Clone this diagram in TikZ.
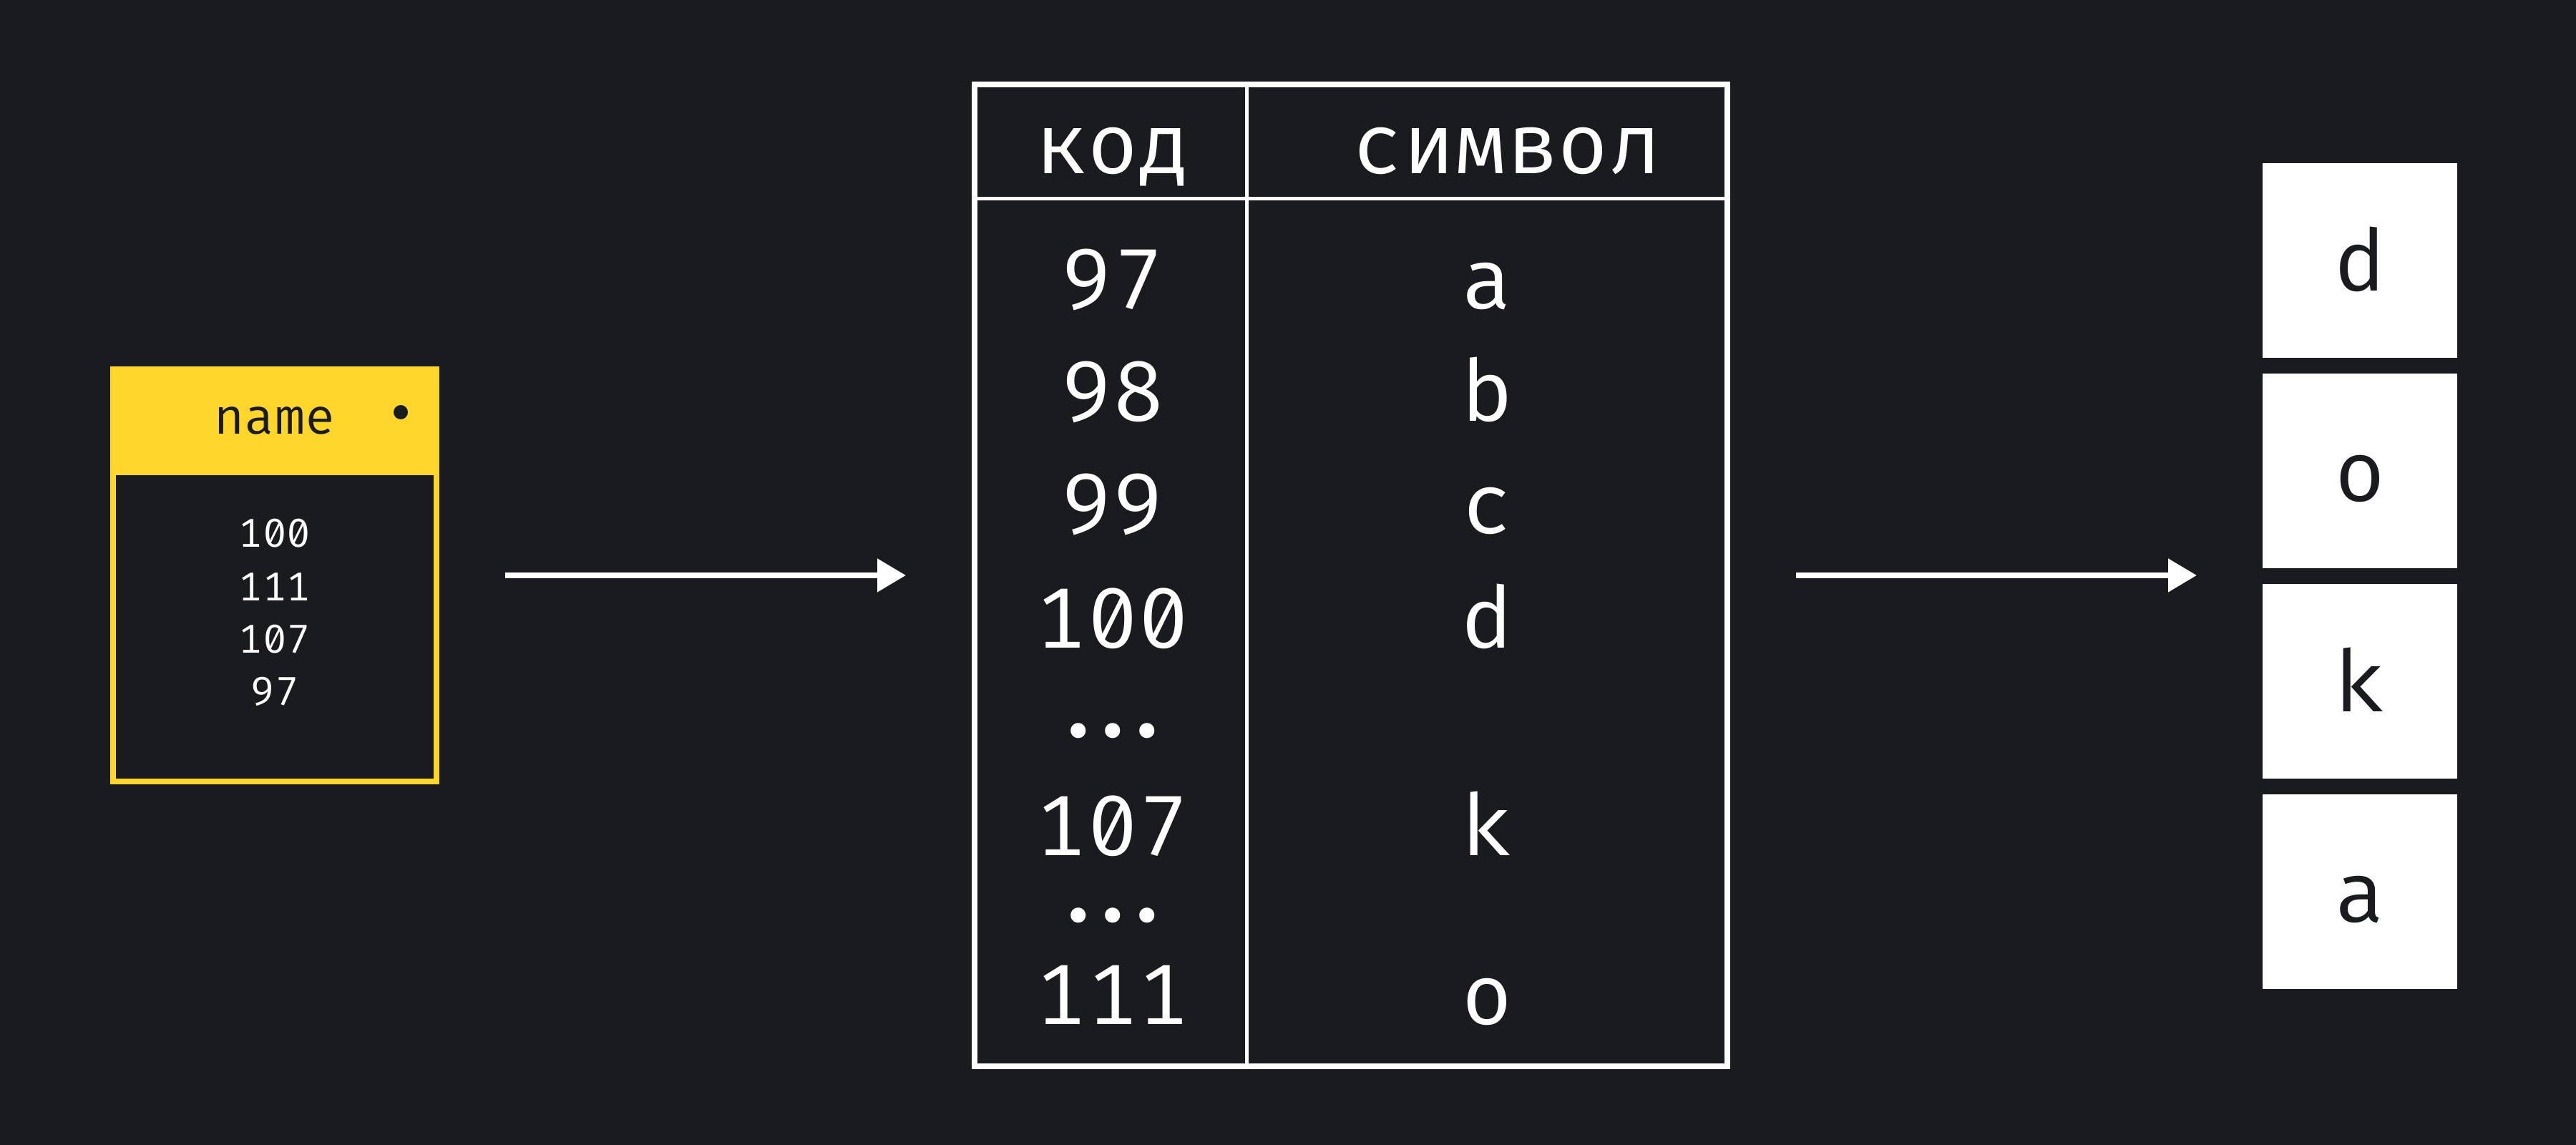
\documentclass[tikz,border=0pt]{standalone}
\usepackage{fontspec}
\setmonofont{Fira Mono}[RawFeature=+zero]
\usetikzlibrary{arrows.meta,positioning}
\definecolor{bg}{HTML}{1A1B1F}
\definecolor{namey}{HTML}{FFD629}
\tikzset{
  cell/.style={font=\ttfamily\fontsize{34}{40}\selectfont,text=white,anchor=base,inner sep=0pt},
  small/.style={font=\ttfamily\fontsize{16}{19}\selectfont,text=white,anchor=base,inner sep=0pt},
  letterbox/.style={fill=white,minimum size=2.72cm,inner sep=0pt,outer sep=0pt,text=bg,
    font=\ttfamily\fontsize{34}{40}\selectfont,text height=0.86cm,text depth=0pt},
  link/.style={draw=white,line width=0.08cm,-{Triangle[length=0.4cm,width=0.45cm]},
    shorten <=0.92cm,shorten >=0.92cm},
}
\begin{document}
\begin{tikzpicture}
    \fill[bg] (0,0) rectangle (36,16);
    %% variable box
    \node[draw=namey,line width=0.08cm,minimum width=4.52cm,minimum height=5.76cm,inner sep=0pt] (var) at (3.84,7.96) {};
    \node[fill=namey,minimum width=4.6cm,minimum height=1.52cm,inner sep=0pt,outer sep=0pt,anchor=north,
      text=bg,font=\ttfamily\fontsize{20}{24}\selectfont,text height=0.38cm,text depth=0pt] (head) at (var.north) {name};
    \fill[bg] ([xshift=-0.54cm,yshift=0.12cm]head.east) circle (0.1cm);
    \node[small] (v1) at (3.84,8.35) {100};
    \node[small] (v2) at (3.84,7.60) {111};
    \node[small] (v3) at (3.84,6.87) {107};
    \node[small] (v4) at (3.84,6.14) {97};
    %% code table
    \node[draw=white,line width=0.08cm,minimum width=10.52cm,minimum height=13.72cm,inner sep=0pt] (tab) at (18.88,7.96) {};
    \coordinate (colsep) at (17.42,13.22);
    \draw[white,line width=0.05cm] (tab.north -| colsep) -- (tab.south -| colsep);
    \draw[white,line width=0.05cm] (tab.west |- colsep) -- (tab.east |- colsep);
    \node[cell] (kod) at (15.55,13.57) {код};
    \node[cell] (sym) at (21.05,13.57) {символ};
    \node[cell] (c97) at (15.55,11.68) {97};
    \node[cell] (s97) at (20.78,11.68) {a};
    \node[cell] (c98) at (15.55,10.11) {98};
    \node[cell] (s98) at (20.78,10.11) {b};
    \node[cell] (c99) at (15.55,8.54) {99};
    \node[cell] (s99) at (20.78,8.54) {c};
    \node[cell] (c100) at (15.55,6.94) {100};
    \node[cell] (s100) at (20.78,6.94) {d};
    \node[cell] (gap1) at (15.55,5.69) {.\kern-0.2em.\kern-0.2em.};
    \node[cell] (c107) at (15.55,4.04) {107};
    \node[cell] (s107) at (20.78,4.04) {k};
    \node[cell] (gap2) at (15.55,3.11) {.\kern-0.2em.\kern-0.2em.};
    \node[cell] (c111) at (15.55,1.68) {111};
    \node[cell] (s111) at (20.78,1.68) {o};
    %% resulting letters
    \node[letterbox] (ld) at (32.98,12.36) {d};
    \node[letterbox,below=0.22cm of ld] (lo) {o};
    \node[letterbox,below=0.22cm of lo] (lk) {k};
    \node[letterbox,below=0.22cm of lk] (la) {a};
    %% arrows
    \draw[link] (var) -- (tab);
    \draw[link] (tab.east) -- (lo.south west |- tab.east);
\end{tikzpicture}
\end{document}
